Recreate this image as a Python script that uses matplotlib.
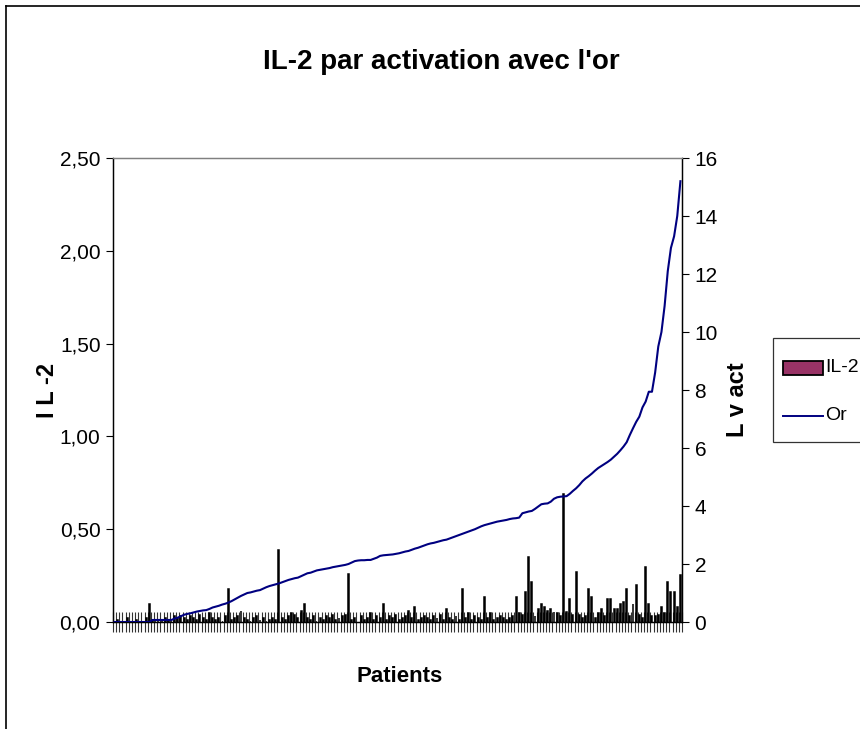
import matplotlib
matplotlib.use("Agg")
import matplotlib.pyplot as plt
from matplotlib.patches import Rectangle
from matplotlib.lines import Line2D
import numpy as np

plt.rcParams['font.family'] = ['Liberation Sans', 'DejaVu Sans']

title = "IL-2 par activation avec l'or"
xlabel = "Patients"
ylabel_left = "I L -2"
ylabel_right = "L v act"
legend_labels = ["IL-2", "Or"]
left_ticks = [0.0, 0.5, 1.0, 1.5, 2.0, 2.5]
left_ticklabels = ["0,00", "0,50", "1,00", "1,50", "2,00", "2,50"]
right_ticks = [0, 2, 4, 6, 8, 10, 12, 14, 16]

il2 = [
    0, 0.01, 0, 0, 0.02, 0, 0, 0.01, 0, 0,
    0.02, 0.095, 0.01, 0, 0, 0.01, 0.02, 0.01, 0, 0.03,
    0.02, 0.03, 0.02, 0.01, 0.03, 0.02, 0.01, 0.04, 0.02, 0.01,
    0.05, 0.02, 0.01, 0.02, 0, 0.03, 0.176, 0.01, 0.02, 0.03,
    0.06, 0.02, 0.01, 0, 0.02, 0.03, 0.01, 0.02, 0, 0.01,
    0.02, 0.01, 0.388, 0.02, 0.01, 0.03, 0.05, 0.04, 0.02, 0.06,
    0.095, 0.02, 0.01, 0.03, 0, 0.02, 0.01, 0.03, 0.02, 0.04,
    0.01, 0.02, 0.03, 0.04, 0.257, 0.01, 0.02, 0, 0.03, 0.01,
    0.02, 0.05, 0.01, 0.03, 0.02, 0.095, 0.01, 0.03, 0.02, 0.04,
    0.01, 0.02, 0.03, 0.06, 0.02, 0.083, 0.01, 0.02, 0.03, 0.02,
    0.01, 0.03, 0.02, 0.04, 0.01, 0.07, 0.02, 0.01, 0.03, 0.01,
    0.176, 0.02, 0.05, 0.01, 0.03, 0.02, 0.01, 0.137, 0.02, 0.05,
    0.01, 0.02, 0.03, 0.02, 0.01, 0.02, 0.03, 0.137, 0.05, 0.04,
    0.16, 0.35, 0.215, 0.03, 0.068, 0.095, 0.083, 0.06, 0.068, 0.055,
    0.05, 0.03, 0.69, 0.055, 0.122, 0.04, 0.27, 0.04, 0.02, 0.03,
    0.176, 0.137, 0.02, 0.05, 0.068, 0.03, 0.122, 0.122, 0.068, 0.068,
    0.095, 0.11, 0.176, 0.03, 0.095, 0.2, 0.04, 0.02, 0.295, 0.095,
    0.03, 0.03, 0.04, 0.083, 0.05, 0.215, 0.162, 0.162, 0.083, 0.255,
]

gold = [
    0, 0, 0, 0, 0, 0, 0, 0, 0, 0,
    0, 0, 0.07, 0.07, 0.07, 0.07, 0.07, 0.07, 0.07, 0.12,
    0.15, 0.2, 0.25, 0.28, 0.3, 0.33, 0.36, 0.38, 0.4, 0.41,
    0.45, 0.5, 0.53, 0.56, 0.6, 0.63, 0.67, 0.72, 0.78, 0.84,
    0.9, 0.95, 1.0, 1.02, 1.05, 1.08, 1.1, 1.15, 1.2, 1.24,
    1.27, 1.3, 1.33, 1.37, 1.41, 1.45, 1.48, 1.51, 1.53, 1.58,
    1.63, 1.68, 1.7, 1.74, 1.78, 1.8, 1.82, 1.84, 1.86, 1.89,
    1.91, 1.93, 1.95, 1.97, 2.0, 2.05, 2.1, 2.12, 2.13, 2.13,
    2.14, 2.14, 2.18, 2.22, 2.28, 2.3, 2.31, 2.32, 2.33, 2.35,
    2.37, 2.4, 2.43, 2.45, 2.49, 2.53, 2.56, 2.6, 2.64, 2.68,
    2.71, 2.73, 2.76, 2.79, 2.82, 2.84, 2.88, 2.92, 2.96, 3.0,
    3.04, 3.08, 3.12, 3.16, 3.2, 3.25, 3.3, 3.34, 3.37, 3.4,
    3.43, 3.46, 3.48, 3.5, 3.52, 3.55, 3.57, 3.58, 3.6, 3.75,
    3.78, 3.81, 3.83, 3.9, 3.98, 4.06, 4.08, 4.09, 4.15, 4.25,
    4.3, 4.32, 4.33, 4.34, 4.42, 4.52, 4.61, 4.72, 4.85, 4.95,
    5.03, 5.12, 5.22, 5.31, 5.38, 5.45, 5.52, 5.6, 5.7, 5.8,
    5.92, 6.05, 6.2, 6.45, 6.68, 6.9, 7.08, 7.4, 7.6, 7.94,
    7.94, 8.6, 9.5, 10.0, 10.9, 12.1, 12.9, 13.3, 14.0, 15.2,
]

W, H = 860, 729
def fx(px):
    return px / W
def fy(py):
    return 1 - py / H

n = len(il2)
x = np.arange(n)

fig = plt.figure(figsize=(8.6, 7.29), dpi=100)
ax = fig.add_axes([fx(113), fy(622), (682-113)/W, (622-158)/H])
ax2 = ax.twinx()

ax.bar(x, il2, width=0.3, color='#993366', edgecolor='black', linewidth=1.1, zorder=2)
ax2.plot(x, gold, color='#000080', linewidth=1.5, zorder=3)

ax.set_xlim(-0.5, n - 0.5)
ax.set_ylim(0, 2.5)
ax2.set_ylim(0, 16)

ax.set_xticks(np.arange(n + 1) - 0.5)
ax.set_xticklabels([])
ax.tick_params(axis='x', direction='inout', length=14, width=0.8, color='#333333')

ax.set_yticks(left_ticks)
ax.set_yticklabels(left_ticklabels, fontsize=15)
ax.tick_params(axis='y', direction='out', length=5, width=0.8, pad=4)
ax2.set_yticks(right_ticks)
ax2.set_yticklabels([str(t) for t in right_ticks], fontsize=15)
ax2.tick_params(axis='y', direction='out', length=5, width=0.8, pad=4)

for a in (ax, ax2):
    a.spines['top'].set_color('#808080')
    for s in a.spines.values():
        s.set_linewidth(0.9)
    for k in ('left', 'right', 'bottom'):
        a.spines[k].set_color('black')

fig.text(fx(48), fy(390), ylabel_left, fontsize=17, fontweight='bold', rotation=90,
         ha='center', va='center')
fig.text(fx(737), fy(400), ylabel_right, fontsize=17, fontweight='bold', rotation=90,
         ha='center', va='center')
fig.text(fx(400), fy(677), xlabel, fontsize=16, fontweight='bold', ha='center', va='center')
fig.text(fx(441), fy(62), title, fontsize=20, fontweight='bold', ha='center', va='center')

# outer chart border (left and top visible)
fig.add_artist(Line2D([fx(6), fx(6)], [0, fy(6)], transform=fig.transFigure, color='black', lw=1.2))
fig.add_artist(Line2D([fx(6), 1], [fy(6), fy(6)], transform=fig.transFigure, color='black', lw=1.2))

# legend box
fig.add_artist(Rectangle((fx(773), fy(442)), fx(900) - fx(773), fy(338) - fy(442),
                         transform=fig.transFigure, facecolor='white', edgecolor='#333333', lw=0.9))
fig.add_artist(Rectangle((fx(783), fy(375)), fx(823) - fx(783), fy(361) - fy(375),
                         transform=fig.transFigure, facecolor='#993366', edgecolor='black', lw=1.3))
fig.add_artist(Line2D([fx(783), fx(823)], [fy(416), fy(416)], transform=fig.transFigure,
                      color='#000080', lw=1.4))
fig.text(fx(825), fy(368), legend_labels[0], fontsize=14, ha='left', va='center')
fig.text(fx(825), fy(416), legend_labels[1], fontsize=14, ha='left', va='center')

fig.savefig("out.png", dpi=100)
